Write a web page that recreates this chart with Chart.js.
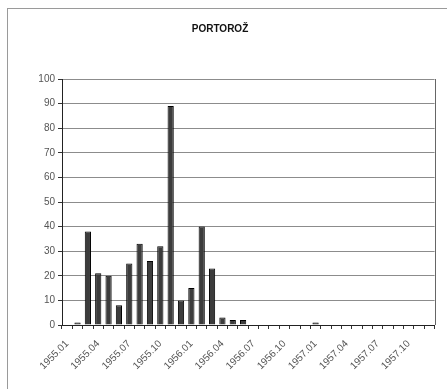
<!DOCTYPE html>
<html>
<head>
<meta charset="utf-8">
<script src="https://cdn.jsdelivr.net/npm/chart.js@4"></script>
<style>
  html, body { margin: 0; padding: 0; background: #fff; }
  #wrap { position: relative; width: 447px; height: 389px; overflow: hidden; }
  #frame { position: absolute; left: 7px; top: 8px; width: 460px; height: 400px;
           border-left: 1px solid #9a9a9a; border-top: 1px solid #9a9a9a; }
  canvas { position: absolute; left: 0; top: 0; }
</style>
</head>
<body>
<div id="wrap">
  <div id="frame"></div>
  <canvas id="chart" width="447" height="389"></canvas>
</div>
<script>
    // mjeseci 1955.01 - 1957.12
    const months = [
        "1955.01", "1955.02", "1955.03", "1955.04", "1955.05", "1955.06",
        "1955.07", "1955.08", "1955.09", "1955.10", "1955.11", "1955.12",
        "1956.01", "1956.02", "1956.03", "1956.04", "1956.05", "1956.06",
        "1956.07", "1956.08", "1956.09", "1956.10", "1956.11", "1956.12",
        "1957.01", "1957.02", "1957.03", "1957.04", "1957.05", "1957.06",
        "1957.07", "1957.08", "1957.09", "1957.10", "1957.11", "1957.12"
    ];

    const values = [
        0, 1, 38, 21, 20, 8, 25, 33, 26, 32, 89, 10,
        15, 40, 23, 3, 2, 2, 0, 0, 0, 0, 0, 0,
        1, 0, 0, 0, 0, 0, 0, 0, 0, 0, 0, 0
    ];

    const yTicks = [0, 10, 20, 30, 40, 50, 60, 70, 80, 90, 100];

    const tickFont = { family: "Liberation Sans, Arial, sans-serif", size: 10 };

    // desni rub područja grafa
    const plotBorder = {
        id: "plotBorder",
        afterDraw(chart) {
            const { ctx, chartArea } = chart;
            ctx.save();
            ctx.strokeStyle = "#666";
            ctx.lineWidth = 1;
            ctx.beginPath();
            ctx.moveTo(Math.round(chartArea.right) + 0.5, chartArea.top);
            ctx.lineTo(Math.round(chartArea.right) + 0.5, chartArea.bottom);
            ctx.stroke();
            ctx.restore();
        }
    };

    const ctx = document.getElementById("chart").getContext("2d");
    new Chart(ctx, {
        type: "bar",
        data: {
            labels: months,
            datasets: [{
                data: values,
                backgroundColor: "#3c3c3c",
                borderColor: "#000",
                borderWidth: 1,
                categoryPercentage: 1,
                barPercentage: 0.6
            }]
        },
        options: {
            responsive: false,
            animation: false,
            layout: { padding: { left: 0, right: 7, top: 0, bottom: 0 } },
            plugins: {
                legend: { display: false },
                tooltip: { enabled: false },
                title: {
                    display: true,
                    text: "PORTOROŽ",
                    color: "#111",
                    font: { family: "Liberation Sans, Arial, sans-serif", size: 10, weight: "bold" },
                    padding: { top: 23, bottom: 44 }
                }
            },
            scales: {
                x: {
                    grid: { display: true, drawOnChartArea: false, drawTicks: true, tickLength: 4, color: "#333", offset: true },
                    border: { color: "#222" },
                    ticks: {
                        autoSkip: false,
                        minRotation: 45,
                        maxRotation: 45,
                        color: "#555",
                        font: tickFont,
                        padding: 9,
                        callback: (v, i) => (i % 3 === 0 ? months[i] : "")
                    },
                    afterFit: (scale) => { scale.height = 64; }
                },
                y: {
                    min: 0,
                    max: 100,
                    afterBuildTicks: (scale) => { scale.ticks = yTicks.map(v => ({ value: v })); },
                    grid: { color: "#8c8c8c", tickLength: 4, tickColor: "#333" },
                    border: { color: "#222" },
                    ticks: { color: "#555", font: tickFont, padding: 3 },
                    afterFit: (scale) => { scale.width = 62; }
                }
            }
        },
        plugins: [plotBorder]
    });
</script>
</body>
</html>
